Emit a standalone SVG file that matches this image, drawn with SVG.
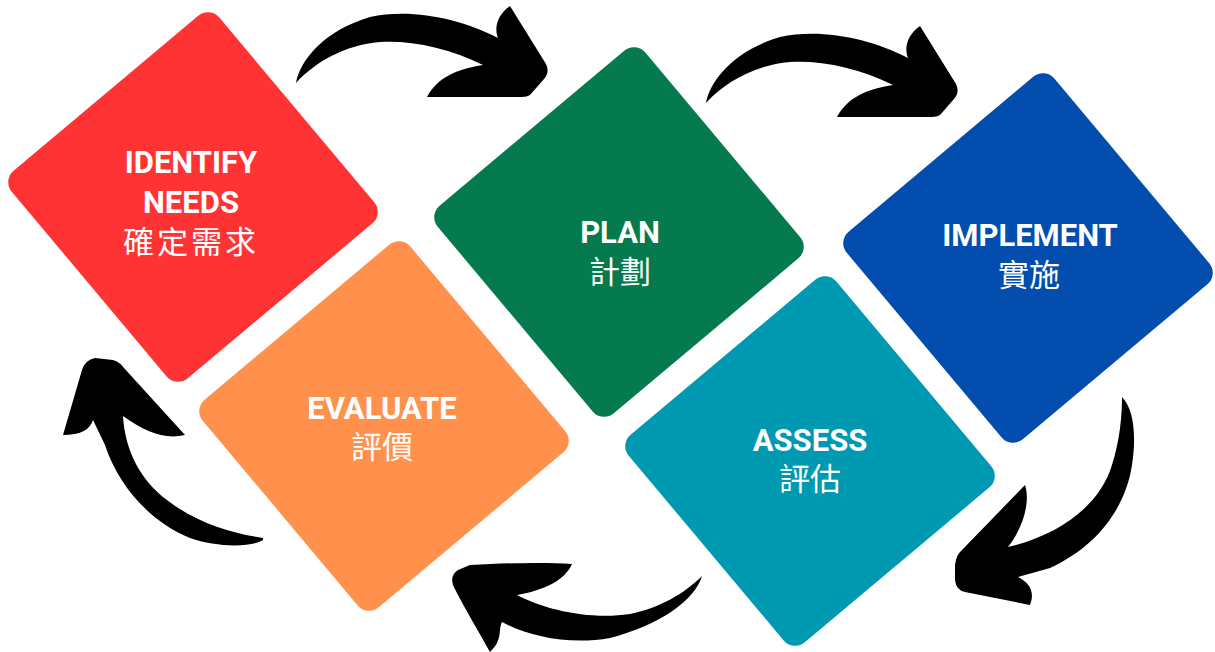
<svg xmlns="http://www.w3.org/2000/svg" width="1215" height="652" viewBox="0 0 1215 652">
<style>
.lat{font-family:Roboto,"Liberation Sans",sans-serif;font-weight:700;font-size:31px;fill:#ffffff;text-anchor:middle}
.cjk{font-family:"Noto Sans CJK TC","Noto Sans CJK SC",sans-serif;font-weight:400;font-size:31px;fill:#ffffff;text-anchor:middle}
.arrow{fill:#000000;stroke:none}
</style>
<rect width="1215" height="652" fill="#ffffff"/>
<g id="connectors">
<path id="arrow-1" class="arrow" d="M296,83 C300,60 325,30 370,17 C410,8 460,18 498,38 C494,28 497,15 510,6 L546,64 Q550,72 544,79 L530,95 Q527,97 522,97 L427,97 C435,82 450,70 483,65 C450,48 410,40 380,42 C345,45 315,62 296,83 Z"/>
<path id="arrow-2" class="arrow" transform="translate(410,20)" d="M296,83 C300,60 325,30 370,17 C410,8 460,18 498,38 C494,28 497,15 510,6 L546,64 Q550,72 544,79 L530,95 Q527,97 522,97 L427,97 C435,82 450,70 483,65 C450,48 410,40 380,42 C345,45 315,62 296,83 Z"/>
<path id="arrow-3" class="arrow" d="M1122,397 C1135,410 1136,440 1132,465 C1126,505 1100,545 1050,568 L1018,577 C1030,583 1035,592 1030,605 L965,592 Q956,590 955,580 L955,565 Q956,555 962,550 L1025,485 C1030,500 1025,525 1008,547 C1060,535 1100,505 1112,465 C1120,440 1122,415 1122,397 Z"/>
<path id="arrow-4" class="arrow" d="M702,576 C695,600 660,625 610,638 C570,645 530,637 502,622 C498,630 503,640 490,652 C475,625 460,600 453,585 Q450,575 458,570 L470,565 C510,563 545,562 572,564 C565,580 545,590 517,595 C545,610 590,620 630,614 C660,608 685,593 702,576 Z"/>
<path id="arrow-5" class="arrow" d="M263,540 C250,548 215,547 190,538 C150,522 118,485 105,445 L93,420 C90,430 80,435 63,435 L82,370 Q85,360 95,358 L113,360 Q120,362 124,368 L185,435 C165,440 145,432 123,416 C125,450 140,480 167,500 C195,522 230,533 263,538 Z"/>
</g>
<g id="node-identify">
<rect x="57.5" y="61.5" width="271" height="271" rx="15" fill="#FF3333" transform="rotate(50 193 197)"/>
<text class="lat" x="191" y="173">IDENTIFY</text>
<text class="lat" x="191" y="213">NEEDS</text>
<text class="cjk" x="191" y="253" letter-spacing="3">確定需求</text>
</g>
<g id="node-plan">
<rect x="483.5" y="96.5" width="271" height="271" rx="15" fill="#047A4E" transform="rotate(50 619 232)"/>
<text class="lat" x="620" y="243">PLAN</text>
<text class="cjk" x="620" y="283">計劃</text>
</g>
<g id="node-implement">
<rect x="892.5" y="122.5" width="271" height="271" rx="15" fill="#024DAD" transform="rotate(50 1028 258)"/>
<text class="lat" x="1030" y="246">IMPLEMENT</text>
<text class="cjk" x="1029" y="286">實施</text>
</g>
<g id="node-evaluate">
<rect x="248.5" y="290.5" width="271" height="271" rx="15" fill="#FF914D" transform="rotate(50 384 426)"/>
<text class="lat" x="382" y="419">EVALUATE</text>
<text class="cjk" x="382" y="458">評價</text>
</g>
<g id="node-assess">
<rect x="674.5" y="325.5" width="271" height="271" rx="15" fill="#0099B2" transform="rotate(50 810 461)"/>
<text class="lat" x="810" y="451">ASSESS</text>
<text class="cjk" x="810" y="490">評估</text>
</g>
</svg>
